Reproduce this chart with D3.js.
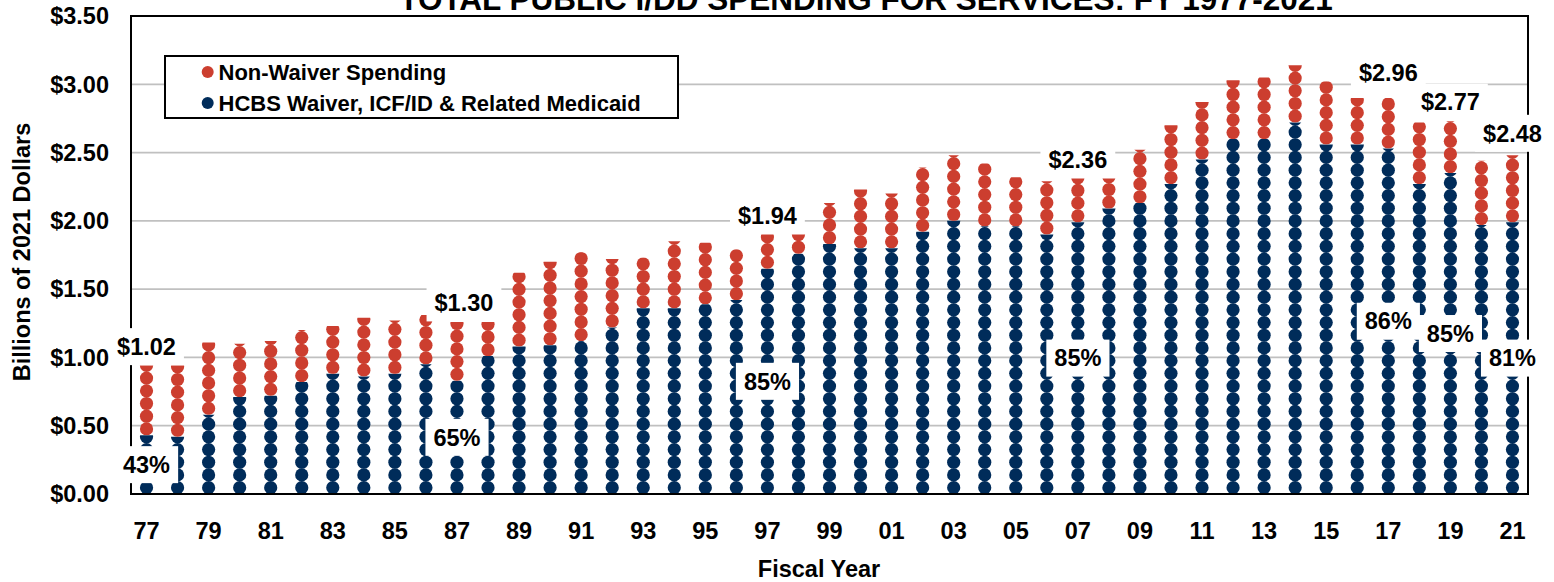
<!DOCTYPE html>
<html lang="en">
	<head>
		<meta charset="utf-8">
		<title>Total Public I/DD Spending for Services: FY 1977-2021</title>
		<script type="text/javascript" src="https://cdn.jsdelivr.net/npm/d3@7/dist/d3.min.js"></script>
		<style type="text/css">
			body { margin: 0; background: #fff; }
			text { font-family: "Liberation Sans", Arial, sans-serif; font-weight: bold; fill: #000; }
		</style>
	</head>
	<body>
		<script type="text/javascript">

			//Fiscal years 1977-2021
			var years = [1977, 1978, 1979, 1980, 1981, 1982, 1983, 1984, 1985, 1986,
						 1987, 1988, 1989, 1990, 1991, 1992, 1993, 1994, 1995, 1996,
						 1997, 1998, 1999, 2000, 2001, 2002, 2003, 2004, 2005, 2006,
						 2007, 2008, 2009, 2010, 2011, 2012, 2013, 2014, 2015, 2016,
						 2017, 2018, 2019, 2020, 2021];

			//HCBS Waiver, ICF/ID & Related Medicaid (billions, 2021 dollars)
			var waiver = [0.43, 0.42, 0.58, 0.71, 0.72, 0.82, 0.88, 0.86, 0.88, 0.95,
						  0.83, 1.01, 1.08, 1.09, 1.12, 1.22, 1.36, 1.36, 1.39, 1.42,
						  1.65, 1.76, 1.83, 1.80, 1.80, 1.92, 2.00, 1.96, 1.96, 1.90,
						  1.99, 2.09, 2.13, 2.27, 2.45, 2.60, 2.60, 2.72, 2.56, 2.56,
						  2.53, 2.27, 2.35, 1.97, 1.99];

			//Non-Waiver Spending (billions, 2021 dollars)
			var nonWaiver = [0.51, 0.52, 0.53, 0.39, 0.40, 0.38, 0.35, 0.43, 0.39, 0.36,
							 0.43, 0.25, 0.54, 0.61, 0.65, 0.50, 0.37, 0.49, 0.45, 0.37,
							 0.25, 0.14, 0.30, 0.43, 0.40, 0.47, 0.48, 0.46, 0.36, 0.39,
							 0.32, 0.22, 0.39, 0.43, 0.42, 0.43, 0.45, 0.42, 0.46, 0.34,
							 0.37, 0.45, 0.38, 0.47, 0.49];

			//Tick values / labels
			var yTicks = [0, 0.5, 1, 1.5, 2, 2.5, 3, 3.5];
			var xTickLabels = ["77", "79", "81", "83", "85", "87", "89", "91", "93", "95", "97", "99",
							   "01", "03", "05", "07", "09", "11", "13", "15", "17", "19", "21"];

			//Annotated years
			var labelYears = [1977, 1987, 1997, 2007, 2017, 2019, 2021];
			var totalLabels = ["$1.02", "$1.30", "$1.94", "$2.36", "$2.96", "$2.77", "$2.48"];
			var shareLabels = ["43%", "65%", "85%", "85%", "86%", "85%", "81%"];

			var seriesNames = ["Non-Waiver Spending", "HCBS Waiver, ICF/ID & Related Medicaid"];

			//Width and height
			var w = 1554;
			var h = 582;
			var plotLeft = 131, plotRight = 1528, plotTop = 16, plotBottom = 494;

			var blue = "#002c5a";
			var red = "#cc3e2f";

			var dotStep = 12.7;   //vertical spacing of the dots
			var dotR = 6.6;

			var xScale = d3.scaleBand()
						.domain(years)
						.range([plotLeft, plotRight]);

			var yScale = d3.scaleLinear()
						.domain([0, 3.5])
						.range([plotBottom, plotTop]);

			var svg = d3.select("body")
						.append("svg")
						.attr("width", w)
						.attr("height", h);

			var defs = svg.append("defs");

			//Gridlines
			svg.append("g")
			   .selectAll("line")
			   .data(yTicks.filter(function(d) { return d > 0; }))
			   .enter()
			   .append("line")
			   .attr("x1", plotLeft)
			   .attr("x2", plotRight)
			   .attr("y1", function(d) { return yScale(d); })
			   .attr("y2", function(d) { return yScale(d); })
			   .attr("stroke", "#c0c0c0")
			   .attr("stroke-width", 1.8);

			//Segments: base + top for each stacked piece
			var segments = [];
			years.forEach(function(yr, i) {
				segments.push({ year: yr, i: i, k: 0, base: 0, top: waiver[i], color: blue });
				segments.push({ year: yr, i: i, k: 1, base: waiver[i], top: waiver[i] + nonWaiver[i], color: red });
			});

			//clip each segment, dots are stacked from its base up
			defs.selectAll("clipPath")
				.data(segments)
				.enter()
				.append("clipPath")
				.attr("id", function(d) { return "clip-" + d.i + "-" + d.k; })
				.append("rect")
				.attr("x", function(d) { return xScale(d.year); })
				.attr("width", xScale.bandwidth())
				.attr("y", function(d) { return yScale(d.top); })
				.attr("height", function(d) { return yScale(d.base) - yScale(d.top); });

			var segG = svg.append("g")
						.selectAll("g")
						.data(segments)
						.enter()
						.append("g")
						.attr("clip-path", function(d) { return "url(#clip-" + d.i + "-" + d.k + ")"; })
						.attr("fill", function(d) { return d.color; });

			segG.selectAll("circle")
				.data(function(d) {
					var px = yScale(d.base) - yScale(d.top);
					var n = Math.ceil(px / dotStep + 0.5);
					return d3.range(n).map(function(j) {
						return { cx: xScale(d.year) + xScale.bandwidth() / 2, cy: yScale(d.base) - (j + 0.5) * dotStep };
					});
				})
				.enter()
				.append("circle")
				.attr("cx", function(d) { return d.cx; })
				.attr("cy", function(d) { return d.cy; })
				.attr("r", dotR);

			//Plot border + axes
			svg.append("rect")
			   .attr("x", plotLeft)
			   .attr("y", plotTop)
			   .attr("width", plotRight - plotLeft)
			   .attr("height", plotBottom - plotTop)
			   .attr("fill", "none")
			   .attr("stroke", "#000")
			   .attr("stroke-width", 2);

			//Y tick labels
			svg.append("g")
			   .selectAll("text")
			   .data(yTicks)
			   .enter()
			   .append("text")
			   .attr("x", 109)
			   .attr("y", function(d) { return yScale(d); })
			   .attr("dy", "0.35em")
			   .attr("text-anchor", "end")
			   .attr("font-size", "23.5px")
			   .text(function(d) { return "$" + d3.format(".2f")(d); });

			//X tick labels (every other year)
			svg.append("g")
			   .selectAll("text")
			   .data(years.filter(function(d, i) { return i % 2 == 0; }))
			   .enter()
			   .append("text")
			   .attr("x", function(d) { return xScale(d) + xScale.bandwidth() / 2; })
			   .attr("y", 538.5)
			   .attr("text-anchor", "middle")
			   .attr("font-size", "23.5px")
			   .text(function(d, i) { return xTickLabels[i]; });

			//Axis titles
			svg.append("text")
			   .attr("x", 819)
			   .attr("y", 577)
			   .attr("text-anchor", "middle")
			   .attr("font-size", "23.5px")
			   .text("Fiscal Year");

			svg.append("text")
			   .attr("transform", "translate(29.5,252) rotate(-90)")
			   .attr("text-anchor", "middle")
			   .attr("font-size", "23.5px")
			   .text("Billions of 2021 Dollars");

			//Title (partly above the page edge, as in the source)
			svg.append("text")
			   .attr("x", 866)
			   .attr("y", 10)
			   .attr("text-anchor", "middle")
			   .attr("font-size", "31.5px")
			   .text("TOTAL PUBLIC I/DD SPENDING FOR SERVICES: FY 1977-2021");

			//text with a white box behind it
			function boxedLabel(g, cx, cy, str) {
				var t = g.append("text")
						 .attr("x", cx)
						 .attr("y", cy)
						 .attr("dy", "0.35em")
						 .attr("text-anchor", "middle")
						 .attr("font-size", "23.5px")
						 .text(str);
				var bb = t.node().getBBox();
				g.insert("rect", function() { return t.node(); })
				 .attr("x", bb.x - 8)
				 .attr("y", cy - 18.5)
				 .attr("width", bb.width + 16)
				 .attr("height", 37)
				 .attr("fill", "#fff");
			}

			var nudge = { 1987: [7, 0], 2017: [0, -6], 2021: [0, -3] };
			var labelG = svg.append("g");

			labelYears.forEach(function(yr, k) {
				var i = years.indexOf(yr);
				var cx = xScale(yr) + xScale.bandwidth() / 2;
				var n = nudge[yr] || [0, 0];
				//total above the column
				boxedLabel(labelG.append("g"), cx + n[0], yScale(waiver[i] + nonWaiver[i]) - 19 + n[1], totalLabels[k]);
				//waiver share in middle of blue segment
				boxedLabel(labelG.append("g"), cx, (yScale(0) + yScale(waiver[i])) / 2, shareLabels[k]);
			});

			//Legend
			var legend = svg.append("g");
			legend.append("rect")
				  .attr("x", 165)
				  .attr("y", 56)
				  .attr("width", 513)
				  .attr("height", 62)
				  .attr("fill", "#fff")
				  .attr("stroke", "#000")
				  .attr("stroke-width", 2);

			var items = legend.selectAll("g")
							  .data(seriesNames)
							  .enter()
							  .append("g")
							  .attr("transform", function(d, i) { return "translate(0," + (i * 31) + ")"; });

			items.append("circle")
				 .attr("cx", 207.7)
				 .attr("cy", 72)
				 .attr("r", 6)
				 .attr("fill", function(d, i) { return i == 0 ? red : blue; });

			items.append("text")
				 .attr("x", 218.5)
				 .attr("y", 80)
				 .attr("font-size", "22px")
				 .text(function(d) { return d; });

		</script>
	</body>
</html>
